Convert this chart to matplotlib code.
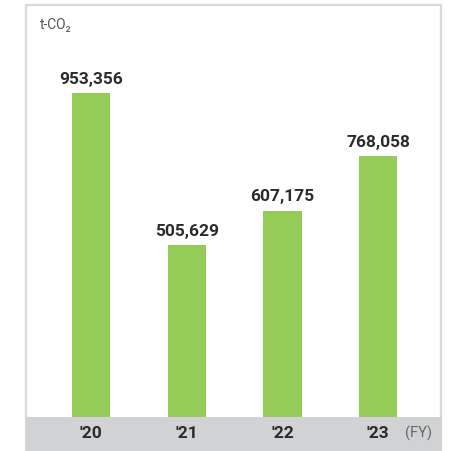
import matplotlib
matplotlib.use("Agg")
import matplotlib.pyplot as plt
from matplotlib.patches import Rectangle

years = ["'20", "'21", "'22", "'23"]
emissions = [953356, 505629, 607175, 768058]
unit_label = "t-CO₂"
fy_label = "(FY)"

W, H = 453, 451
fig = plt.figure(figsize=(W / 100, H / 100), dpi=100)
fig.patch.set_facecolor("white")

# frame and grey category band (pixel coords converted to figure fractions)
left_px, right_px, top_px, base_px = 26, 441, 5, 417
fig.patches.append(Rectangle((left_px / W, 0), (right_px - left_px) / W, (H - top_px) / H,
                             transform=fig.transFigure, facecolor="white",
                             edgecolor="#d9d9d9", linewidth=1.6, zorder=0))
fig.patches.append(Rectangle((left_px / W, 0), (right_px + 1 - left_px) / W, (H - base_px) / H,
                             transform=fig.transFigure, facecolor="#d1d2d4",
                             edgecolor="none", zorder=1))

ax = fig.add_axes([left_px / W, (H - base_px) / H, (right_px - left_px) / W, (base_px - top_px) / H])
ax.set_zorder(3)
ax.set_facecolor("none")
x = list(range(len(years)))
bars = ax.bar(x, emissions, width=0.40, color="#95cb57", zorder=2)
ax.set_xlim(-0.679, 3.657)
ax.set_ylim(0, 1212300)
ax.axis("off")

for xi, v in zip(x, emissions):
    ax.annotate(f"{v:,}", (xi, v), xytext=(0, 4.5), textcoords="offset points",
                ha="center", va="bottom", fontsize=12.5, fontweight="bold",
                color="#2b2b2b", family=["Roboto", "DejaVu Sans"])

# category labels in the grey band
for xi, lab in zip(x, years):
    ax.annotate(lab, (xi, 0), xytext=(0, -12), textcoords="offset points",
                ha="center", va="center", fontsize=12.5, fontweight="bold",
                color="#2b2b2b", family=["Roboto", "DejaVu Sans"], annotation_clip=False)
fig.text(418 / W, 1 - 433 / H, fy_label, ha="center", va="center", fontsize=10.5,
         color="#666666", family=["Roboto", "DejaVu Sans"], zorder=4)

fig.text(40 / W, 1 - 25 / H, unit_label, ha="left", va="center", fontsize=10,
         color="#555555", family=["Roboto", "DejaVu Sans"])

fig.savefig("out.png", dpi=100)
